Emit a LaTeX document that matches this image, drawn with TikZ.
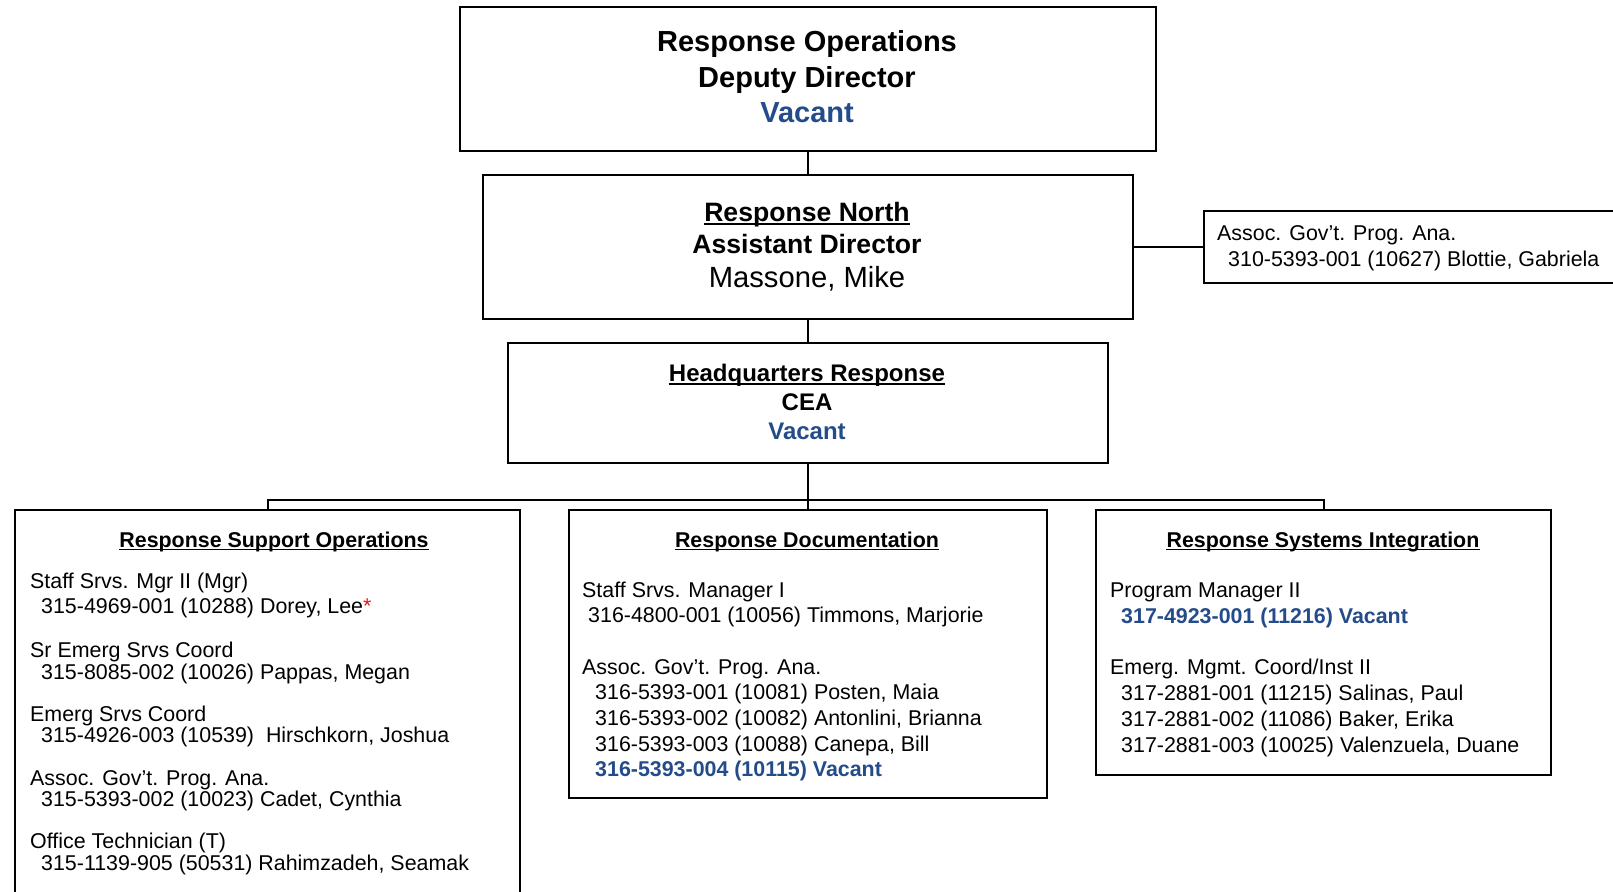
\documentclass[tikz,border=0pt]{standalone}
\usepackage{fontspec}
\setmainfont{Liberation Sans}
\definecolor{vblue}{RGB}{36,76,138}
\definecolor{astred}{RGB}{230,20,20}
\newcommand{\bodyfont}{\fontsize{21.4pt}{25pt}\selectfont}
\begin{document}
\begin{tikzpicture}[x=1pt,y=-1pt,
  box/.style={draw, line width=2pt, anchor=north west, inner sep=0pt, minimum width=#1},
  conn/.style={line width=2pt},
  tx/.style={inner sep=0pt, anchor=base west, font=\bodyfont},
  ttl/.style={inner sep=0pt, anchor=base, font=\bfseries\bodyfont},
  big/.style={inner sep=0pt, anchor=base, font=\bfseries\fontsize{29pt}{34pt}\selectfont},
  mid/.style={inner sep=0pt, anchor=base, font=\bfseries\fontsize{26.6pt}{32pt}\selectfont},
  midr/.style={inner sep=0pt, anchor=base, font=\fontsize{29.2pt}{34pt}\selectfont},
  hqf/.style={inner sep=0pt, anchor=base, font=\bfseries\fontsize{24pt}{29pt}\selectfont},
  uline/.style={line width=1.4pt}
]
\useasboundingbox (0,0) rectangle (1613,891);

% boxes
\node[box=696pt, minimum height=144pt] (top) at (459,6) {};
\node[box=650pt, minimum height=144pt] (rn) at (482,174) {};
\node[box=600pt, minimum height=120pt] (hq) at (507,342) {};
\node[box=420pt, minimum height=72pt] (side) at (1203,210) {};
\node[box=505pt, minimum height=420pt] (lbox) at (14,509) {};
\node[box=478pt, minimum height=288pt] (mbox) at (568,509) {};
\node[box=455pt, minimum height=265pt] (rbox) at (1095,509) {};

% connectors
\coordinate (bus) at (hq.south |- 0,500);
\draw[conn] (top.south) -- (rn.north);
\draw[conn] (rn.south) -- (hq.north);
\draw[conn] (rn.east) -- (side.west);
\draw[conn] (hq.south) -- (bus);
\draw[conn] (lbox.north) -- (lbox.north |- bus) -- (rbox.north |- bus) -- (rbox.north);
\draw[conn] (bus) -- (mbox.north);

% top box
\node[big] (t1) at (807,52) {Response Operations};
\node[big] (t2) at (807,87) {Deputy Director};
\node[big, text=vblue] (t3) at (807,122) {Vacant};

% response north
\node[mid] (r1) at (807,221) {Response North};
\draw[uline] ([yshift=-3pt]r1.base west) -- ([yshift=-3pt]r1.base east);
\node[mid] (r2) at (807,253) {Assistant Director};
\node[midr] (r3) at (807,287) {Massone, Mike};

% side box
\node[tx] (s1) at (1217,240) {Assoc. Gov’t. Prog. Ana.};
\node[tx] (s2) at (1228,266) {310-5393-001 (10627) Blottie, Gabriela};

% HQ
\node[hqf] (h1) at (807,381) {Headquarters Response};
\draw[uline] ([yshift=-2.8pt]h1.base west) -- ([yshift=-2.8pt]h1.base east);
\node[hqf] (h2) at (807,410) {CEA};
\node[hqf, text=vblue] (h3) at (807,439) {Vacant};

% left box
\node[ttl] (lt) at (274,547) {Response Support Operations};
\draw[uline] ([yshift=-2.6pt]lt.base west) -- ([yshift=-2.6pt]lt.base east);
\node[tx] (l1) at (30,588) {Staff Srvs. Mgr II (Mgr)};
\node[tx] (l2) at (41,613) {315-4969-001 (10288) Dorey, Lee\textcolor{astred}{*}};
\node[tx] (l3) at (30,657) {Sr Emerg Srvs Coord};
\node[tx] (l4) at (41,679) {315-8085-002 (10026) Pappas, Megan};
\node[tx] (l5) at (30,721) {Emerg Srvs Coord};
\node[tx] (l6) at (41,742) {315-4926-003 (10539)\ \ Hirschkorn, Joshua};
\node[tx] (l7) at (30,785) {Assoc. Gov’t. Prog. Ana.};
\node[tx] (l8) at (41,806) {315-5393-002 (10023) Cadet, Cynthia};
\node[tx] (l9) at (30,848) {Office Technician (T)};
\node[tx] (l10) at (41,870) {315-1139-905 (50531) Rahimzadeh, Seamak};

% middle box
\node[ttl] (mt) at (807,547) {Response Documentation};
\draw[uline] ([yshift=-2.6pt]mt.base west) -- ([yshift=-2.6pt]mt.base east);
\node[tx] (m1) at (582,597) {Staff Srvs. Manager I};
\node[tx] (m2) at (588,622) {316-4800-001 (10056) Timmons, Marjorie};
\node[tx] (m3) at (582,674) {Assoc. Gov’t. Prog. Ana.};
\node[tx] (m4) at (595,699) {316-5393-001 (10081) Posten, Maia};
\node[tx] (m5) at (595,725) {316-5393-002 (10082) Antonlini, Brianna};
\node[tx] (m6) at (595,751) {316-5393-003 (10088) Canepa, Bill};
\node[tx, font=\bfseries\bodyfont, text=vblue] (m7) at (595,776) {316-5393-004 (10115) Vacant};

% right box
\node[ttl] (rt) at (1323,547) {Response Systems Integration};
\draw[uline] ([yshift=-2.6pt]rt.base west) -- ([yshift=-2.6pt]rt.base east);
\node[tx] (q1) at (1110,597) {Program Manager II};
\node[tx, font=\bfseries\bodyfont, text=vblue] (q2) at (1121,623) {317-4923-001 (11216) Vacant};
\node[tx] (q3) at (1110,674) {Emerg. Mgmt. Coord/Inst II};
\node[tx] (q4) at (1121,700) {317-2881-001 (11215) Salinas, Paul};
\node[tx] (q5) at (1121,726) {317-2881-002 (11086) Baker, Erika};
\node[tx] (q6) at (1121,752) {317-2881-003 (10025) Valenzuela, Duane};
\end{tikzpicture}
\end{document}
